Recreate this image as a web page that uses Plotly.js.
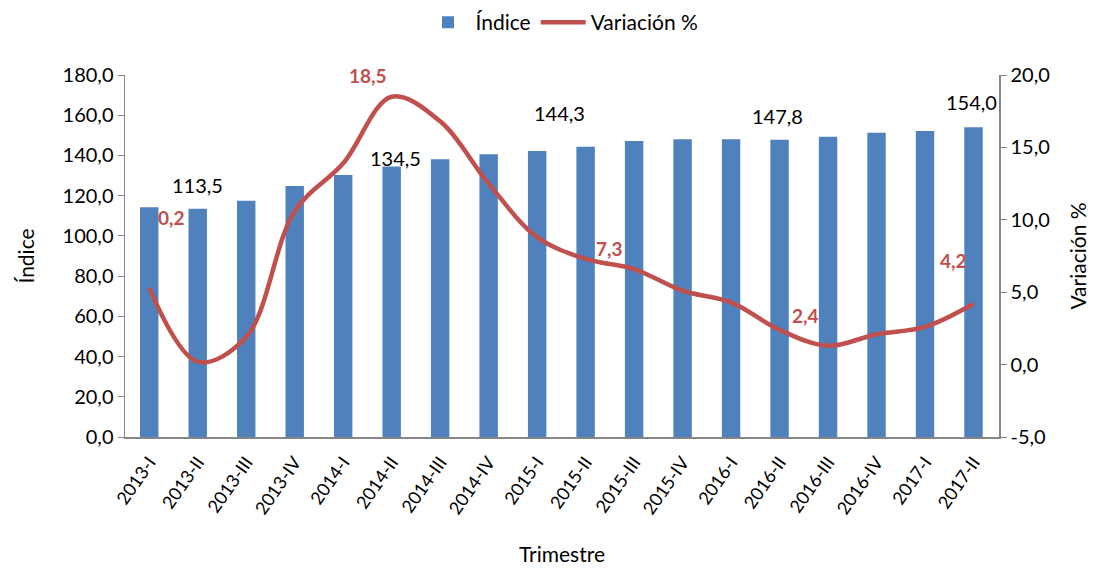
<!DOCTYPE html>
<html><head><meta charset="utf-8">
<script src="https://cdn.plot.ly/plotly-3.0.1.min.js"></script>
<style>html,body{margin:0;padding:0;background:#fff}#chart{width:1107px;height:571px}</style>
</head><body><div id="chart"></div>
<script>
var categories = ["2013-I","2013-II","2013-III","2013-IV","2014-I","2014-II","2014-III","2014-IV","2015-I","2015-II","2015-III","2015-IV","2016-I","2016-II","2016-III","2016-IV","2017-I","2017-II"];
var indice = [114.2,113.5,117.5,124.8,130.3,134.5,138.1,140.6,142.2,144.3,147.2,148.0,148.0,147.8,149.3,151.3,152.2,154.0];
var variacion = [5.3,0.2,1.9,10.6,13.9,18.5,16.8,12.5,8.8,7.3,6.6,5.1,4.3,2.4,1.3,2.1,2.6,4.2];
var labeledIdx = [1,5,9,13,17];
var y2TickVals = [-5,0,5,10,15,20];
var y2TickText = ["-5,0","0,0","5,0","10,0","15,0","20,0"];

var FONT = "Lato, 'Open Sans', sans-serif";
var fmt = function(v){ return v.toFixed(1).replace('.', ','); };

var barShift = [[0,24],[4,9],[-26,34],[-2,24],[-2,25]];
var lineShift = [[-26,144],[-24,21],[24,10],[26,14],[-20,43]];

var annotations = [];
labeledIdx.forEach(function(i, k){
  annotations.push({x: categories[i], y: indice[i], xref:'x', yref:'y', text: fmt(indice[i]),
    showarrow:false, xshift: barShift[k][0], yshift: barShift[k][1],
    font:{family:FONT, size:20, color:'#000'}});
  annotations.push({x: categories[i], y: variacion[i], xref:'x', yref:'y2', text: '<b>'+fmt(variacion[i])+'</b>',
    showarrow:false, xshift: lineShift[k][0], yshift: lineShift[k][1],
    font:{family:FONT, size:19, color:'#C0504D'}});
});

var data = [
  {type:'bar', x:categories, y:indice, name:'Índice', marker:{color:'#4F81BD'}, yaxis:'y'},
  {type:'scatter', mode:'lines', x:categories, y:variacion, name:'Variación %', yaxis:'y2',
   line:{color:'#C0504D', width:4.5, shape:'spline', smoothing:1}}
];

var layout = {
  width:1107, height:571,
  margin:{l:125, r:108, t:75, b:134, autoexpand:false},
  paper_bgcolor:'#fff', plot_bgcolor:'#fff',
  separators: ',.',
  font:{family:FONT, size:20, color:'#000'},
  bargap:0.62,
  showlegend:true,
  legend:{orientation:'h', x:0.5, xanchor:'center', y:1.145, yanchor:'middle', yref:'paper',
    font:{family:FONT, size:21, color:'#000'}, itemwidth:45, traceorder:'normal'},
  xaxis:{type:'category', tickangle:-55, tickfont:{family:FONT, size:18, color:'#000'},
    showline:true, linecolor:'#868686', linewidth:1.5, ticks:'outside', ticklen:6, tickcolor:'#fff', showgrid:false,
    title:{text:'Trimestre', font:{family:FONT, size:21}, standoff:30}},
  yaxis:{range:[0,180], dtick:20, tickformat:'.1f', showline:true, linecolor:'#868686', linewidth:1.5,
    ticks:'outside', ticklen:6, tickcolor:'#868686', showgrid:false, zeroline:false,
    tickfont:{family:FONT, size:20},
    title:{text:'Índice', font:{family:FONT, size:21}, standoff:22}},
  yaxis2:{range:[-5,20], tickmode:'array', tickvals:y2TickVals, ticktext:y2TickText, overlaying:'y', side:'right', showline:true,
    linecolor:'#868686', linewidth:1.5, ticks:'outside', ticklen:6, tickcolor:'#868686',
    showgrid:false, zeroline:false, tickfont:{family:FONT, size:20},
    title:{text:'Variación %', font:{family:FONT, size:21}, standoff:22}},
  annotations: annotations
};

Plotly.newPlot('chart', data, layout, {displayModeBar:false, staticPlot:true});
</script></body></html>
